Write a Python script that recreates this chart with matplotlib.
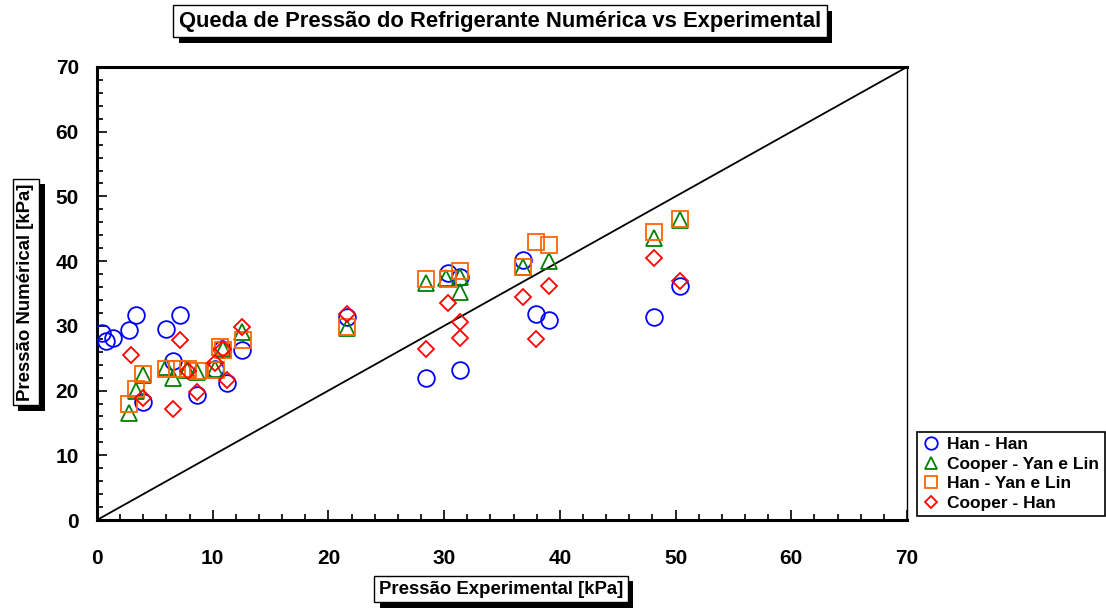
import matplotlib
matplotlib.use("Agg")
import matplotlib.pyplot as plt
from matplotlib import patheffects
from matplotlib.ticker import MultipleLocator

plt.rcParams['font.family'] = ['Liberation Sans', 'DejaVu Sans']
plt.rcParams['font.weight'] = 'bold'

# Han - Han
han_han_x = [0.45, 0.75, 1.35, 2.8, 3.4, 3.95, 6.0, 6.6, 7.2, 8.6, 10.2, 10.8, 11.2, 12.5,
             21.6, 28.4, 30.3, 31.4, 31.4, 36.8, 37.9, 39.1, 48.1, 50.4]
han_han_y = [28.9, 27.6, 28.1, 29.4, 31.7, 18.3, 29.5, 24.5, 31.7, 19.3, 23.3, 26.4, 21.1, 26.3,
             31.4, 22.0, 38.1, 37.6, 23.2, 40.2, 31.8, 30.9, 31.3, 36.1]

# Cooper - Yan e Lin
cooper_yl_x = [2.8, 3.4, 3.95, 6.0, 6.6, 7.75, 8.6, 10.2, 10.9, 12.5,
               21.6, 28.4, 30.2, 31.4, 31.4, 36.8, 39.1, 48.1, 50.4]
cooper_yl_y = [16.6, 19.9, 22.4, 23.7, 21.9, 23.2, 22.9, 23.4, 26.5, 29.1,
               29.6, 36.6, 37.4, 37.6, 35.3, 39.1, 40.0, 43.5, 46.4]

# Han - Yan e Lin
han_yl_x = [2.8, 3.4, 3.95, 6.0, 6.95, 7.9, 8.75, 10.3, 10.6, 10.9, 12.6,
            21.6, 28.4, 30.3, 31.4, 36.8, 37.9, 39.1, 48.1, 50.4]
han_yl_y = [17.9, 20.2, 22.6, 23.4, 23.4, 23.3, 23.0, 23.2, 26.8, 26.3, 27.8,
            29.9, 37.2, 37.2, 38.4, 39.1, 43.0, 42.5, 44.5, 46.5]

# Cooper - Han
cooper_han_x = [2.9, 3.95, 6.6, 7.2, 7.9, 8.6, 10.2, 10.9, 11.2, 12.5,
                21.6, 28.4, 30.3, 31.4, 31.4, 36.8, 37.9, 39.1, 48.1, 50.4]
cooper_han_y = [25.5, 18.9, 17.1, 27.8, 23.1, 19.8, 24.2, 26.4, 21.6, 29.9,
                31.9, 26.4, 33.5, 30.6, 28.1, 34.4, 28.0, 36.2, 40.5, 36.9]

series = [
    ("Han - Han", han_han_x, han_han_y, "o", "#0000FF", 12),
    ("Cooper - Yan e Lin", cooper_yl_x, cooper_yl_y, "^", "#008000", 12),
    ("Han - Yan e Lin", han_yl_x, han_yl_y, "s", "#FF6600", 11.5),
    ("Cooper - Han", cooper_han_x, cooper_han_y, "D", "#FF0000", 8),
]

fig = plt.figure(figsize=(11.06, 6.12), dpi=100)
ax = fig.add_axes([97 / 1106, 92 / 612, 810 / 1106, 453 / 612])

ax.plot([0, 70], [0, 70], color="black", lw=1.3, zorder=1)

handles = []
for label, xs, ys, mk, col, ms in series:
    h, = ax.plot(xs, ys, linestyle="none", marker=mk, markersize=ms,
                 markerfacecolor="none", markeredgecolor=col, markeredgewidth=1.3,
                 label=label, zorder=3)
    handles.append(h)

ax.set_xlim(0, 70)
ax.set_ylim(0, 70)
ax.xaxis.set_major_locator(MultipleLocator(10))
ax.yaxis.set_major_locator(MultipleLocator(10))
ax.xaxis.set_minor_locator(MultipleLocator(2))
ax.yaxis.set_minor_locator(MultipleLocator(2))
ax.tick_params(which="both", direction="in", top=False, right=False, width=1.2)
ax.tick_params(which="major", length=7)
ax.tick_params(which="minor", length=4)
ax.tick_params(axis="x", which="major", pad=21, labelsize=15)
ax.tick_params(axis="y", which="major", pad=13, labelsize=15)
for s in ["left", "bottom", "top"]:
    ax.spines[s].set_linewidth(2.2)
ax.spines["right"].set_linewidth(1.0)


def boxed(x, y, text, size, rotation=0):
    t = fig.text(x, y, text, fontsize=size, fontweight="bold", ha="center", va="center",
                 rotation=rotation,
                 bbox=dict(boxstyle="square,pad=0.25", fc="white", ec="black", lw=1.0))
    t.get_bbox_patch().set_path_effects([
        patheffects.withSimplePatchShadow(offset=(4, -4), shadow_rgbFace="black", alpha=1.0)])
    return t


boxed(500 / 1106, 1 - 21 / 612, "Queda de Pressão do Refrigerante Numérica vs Experimental", 15.8)
boxed(501 / 1106, 1 - 589 / 612, "Pressão Experimental [kPa]", 13.4)
boxed(26 / 1106, 1 - 292 / 612, "Pressão Numérical [kPa]", 13.4, rotation=90)

leg = fig.legend(handles=handles, loc="upper left", bbox_to_anchor=(917 / 1106, 1 - 432 / 612),
                 fancybox=False, frameon=True, edgecolor="black", framealpha=1,
                 prop={"weight": "bold", "size": 12.5}, markerscale=0.75,
                 handlelength=1.0, handletextpad=0.45, labelspacing=0.25,
                 borderpad=0.3, borderaxespad=0)
leg.get_frame().set_linewidth(1.2)

fig.savefig("out.png", dpi=100)
